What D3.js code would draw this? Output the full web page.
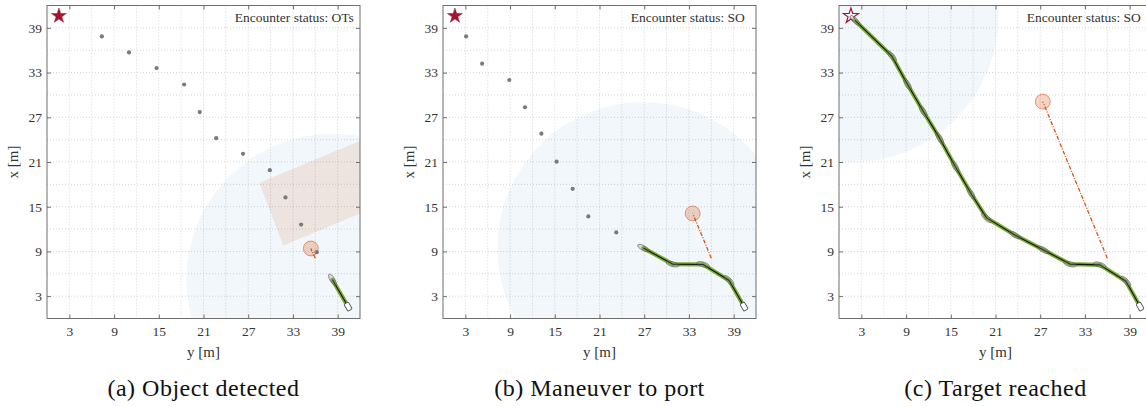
<!DOCTYPE html>
<html>
<head>
<meta charset="utf-8">
<script src="https://cdn.jsdelivr.net/npm/d3@7"></script>
<style>
  body { margin: 0; background: #fff; }
  svg text { font-family: "Liberation Serif", "DejaVu Serif", serif; }
</style>
</head>
<body>
<svg id="chart" width="1146" height="407"></svg>
<script>
// data: points are [y, x] in metres (y is horizontal, x is vertical)
var tickValues = [3, 9, 15, 21, 27, 33, 39];
var gridValues = [3, 6, 9, 12, 15, 18, 21, 24, 27, 30, 33, 36, 39];
var captions = ["(a) Object detected", "(b) Maneuver to port", "(c) Target reached"];
var statusLabels = ["Encounter status: OTs", "Encounter status: SO", "Encounter status: SO"];

var target = [1.6, 40.6];

var waypointsA = [[7.36, 37.85], [11.0, 35.7], [14.7, 33.6], [18.4, 31.4], [20.5, 27.7], [22.7, 24.2],
                  [26.3, 22.1], [29.9, 19.9], [32.0, 16.25], [34.1, 12.6], [36.2, 8.9]];
var waypointsB = [[3.1, 37.85], [5.25, 34.2], [8.9, 32.0], [11.0, 28.35], [13.2, 24.8], [15.25, 21.05],
                  [17.4, 17.4], [19.5, 13.7], [23.25, 11.55]];
var waypointsC = [];

var trackA = [[40.4, 1.6], [38.3, 5.2]];
var trackB = [[40.4, 1.6], [38.4, 5.1], [34.9, 7.25], [30.8, 7.3], [26.9, 9.45]];
var trackC = [[40.4, 1.6], [38.5, 5.0], [35.0, 7.2], [31.0, 7.3], [27.45, 9.2], [23.6, 11.2], [19.8, 13.5],
              [17.7, 16.8], [15.6, 20.4], [13.5, 24.2], [11.3, 27.8], [9.2, 31.4], [7.1, 35.2], [2.15, 40.0]];

var obstacleStart = [36.0, 8.1];
var obstacleA = [35.4, 9.4];
var obstacleB = [33.5, 14.1];
var obstacleC = [27.35, 29.1];
var obstacleRadius = 1.0;

var zoneCenters = [[38.3, 5.2], [26.9, 9.45], [1.8, 40.6]];
var zoneRadius = 19.6;

var riskAreaA = [[28.5, 18.2], [31.7, 9.8], [54.0, 19.1], [50.8, 27.5]];

var statusAt = 25.2; // left edge of the status text, in y metres

var panels = [
  {waypoints: waypointsA, track: trackA, obstacle: obstacleA, risk: riskAreaA},
  {waypoints: waypointsB, track: trackB, obstacle: obstacleB, risk: null},
  {waypoints: waypointsC, track: trackC, obstacle: obstacleC, risk: null}
];

var svg = d3.select("#chart");
var size = 313;
var x = d3.scaleLinear().domain([0, 42]).range([0, size]);
var y = d3.scaleLinear().domain([0, 42]).range([size, 0]);
var line = d3.line().x(function(d) { return x(d[0]); }).y(function(d) { return y(d[1]); });

var green = "#77ac30", orange = "#d95319", axisGray = "#6e6e6e", textCol = "#333";
var serif = "'Liberation Serif', 'DejaVu Serif', serif";

panels.forEach(function(p, i) {
  var left = 47 + i * 396, top = 5.5;
  var g = svg.append("g").attr("transform", "translate(" + left + "," + top + ")");

  g.append("clipPath").attr("id", "clip" + i)
    .append("rect").attr("width", size).attr("height", size);

  g.append("rect").attr("width", size).attr("height", size).attr("fill", "#fff");

  var plot = g.append("g").attr("clip-path", "url(#clip" + i + ")");

  // grid
  plot.selectAll(".gx").data(gridValues).enter().append("line")
    .attr("x1", function(d) { return x(d); }).attr("x2", function(d) { return x(d); })
    .attr("y1", 0).attr("y2", size)
    .attr("stroke", "#cbcbcb").attr("stroke-width", 0.8).attr("stroke-dasharray", "1,2");
  plot.selectAll(".gy").data(gridValues).enter().append("line")
    .attr("y1", function(d) { return y(d); }).attr("y2", function(d) { return y(d); })
    .attr("x1", 0).attr("x2", size)
    .attr("stroke", "#cbcbcb").attr("stroke-width", 0.8).attr("stroke-dasharray", "1,2");

  // detection zone
  plot.append("circle")
    .attr("cx", x(zoneCenters[i][0])).attr("cy", y(zoneCenters[i][1]))
    .attr("r", x(zoneRadius) - x(0))
    .attr("fill", "#0072bd").attr("fill-opacity", 0.055);

  if (p.risk) {
    plot.append("path").attr("d", line(p.risk) + "Z")
      .attr("fill", orange).attr("fill-opacity", 0.12);
  }

  // obstacle path and body
  plot.append("path").attr("d", line([obstacleStart, p.obstacle]))
    .attr("fill", "none").attr("stroke", orange).attr("stroke-width", 1.3)
    .attr("stroke-dasharray", "4,1.5,1,1.5");
  plot.append("circle")
    .attr("cx", x(p.obstacle[0])).attr("cy", y(p.obstacle[1]))
    .attr("r", x(obstacleRadius) - x(0))
    .attr("fill", orange).attr("fill-opacity", 0.25)
    .attr("stroke", orange).attr("stroke-opacity", 0.7).attr("stroke-width", 0.8);

  // planned waypoints
  plot.selectAll(".wp").data(p.waypoints).enter().append("circle")
    .attr("cx", function(d) { return x(d[0]); }).attr("cy", function(d) { return y(d[1]); })
    .attr("r", 2.1).attr("fill", "#7a7a7a");

  // target star
  var star = d3.symbol().type(d3.symbolStar).size(70);
  plot.append("path").attr("d", star())
    .attr("transform", "translate(" + x(target[0]) + "," + y(target[1]) + ")")
    .attr("fill", i === 2 ? "none" : "#a2142f").attr("stroke", "#a2142f").attr("stroke-width", i === 2 ? 1.2 : 0.5);

  // travelled track
  plot.append("path").attr("d", line(p.track))
    .attr("fill", "none").attr("stroke", green).attr("stroke-width", 4.2)
    .attr("stroke-linejoin", "round").attr("stroke-linecap", "round");
  plot.append("path").attr("d", line(p.track))
    .attr("fill", "none").attr("stroke", "#111").attr("stroke-width", 1.1)
    .attr("stroke-linejoin", "round");

  // vessel outlines along the track
  p.track.forEach(function(d, k) {
    var next = p.track[Math.min(k + 1, p.track.length - 1)];
    var prev = p.track[Math.max(k - 1, 0)];
    var dx = x(next[0]) - x(prev[0]), dy = y(next[1]) - y(prev[1]);
    var ang = Math.atan2(dy, dx) * 180 / Math.PI;
    var hull = plot.append("g")
      .attr("transform", "translate(" + x(d[0]) + "," + y(d[1]) + ") rotate(" + ang + ")");
    if (k === 0) {
      hull.append("rect").attr("x", -4).attr("y", -2.5).attr("width", 8).attr("height", 5)
        .attr("rx", 1.2).attr("fill", "#fff").attr("stroke", "#555").attr("stroke-width", 0.9);
    } else {
      hull.append("ellipse").attr("rx", 6.5).attr("ry", 2.4)
        .attr("fill", "#888").attr("fill-opacity", 0.25)
        .attr("stroke", "#555").attr("stroke-opacity", 0.7).attr("stroke-width", 0.8);
    }
  });

  // axes
  var xAxis = d3.axisBottom(x).tickValues(tickValues).tickSize(-4).tickPadding(8);
  var yAxis = d3.axisLeft(y).tickValues(tickValues).tickSize(-4).tickPadding(5);
  var xTop = d3.axisTop(x).tickValues(tickValues).tickSize(-4).tickFormat("");
  var yRight = d3.axisRight(y).tickValues(tickValues).tickSize(-4).tickFormat("");

  var ax = g.append("g").attr("transform", "translate(0," + size + ")").call(xAxis);
  var ay = g.append("g").call(yAxis);
  var at = g.append("g").call(xTop);
  var ar = g.append("g").attr("transform", "translate(" + size + ",0)").call(yRight);
  [ax, ay, at, ar].forEach(function(a) {
    a.attr("font-family", serif);
    a.select(".domain").remove();
    a.selectAll(".tick line").attr("stroke", axisGray);
    a.selectAll("text").attr("fill", textCol).style("font-size", "13.5px")
      .style("font-family", serif);
  });

  g.append("rect").attr("width", size).attr("height", size)
    .attr("fill", "none").attr("stroke", axisGray).attr("stroke-width", 1);

  // labels
  g.append("text").attr("x", size / 2).attr("y", size + 38)
    .attr("text-anchor", "middle").attr("fill", textCol).style("font-size", "15px")
    .text("y [m]");
  g.append("text").attr("transform", "translate(-29," + (size / 2) + ") rotate(-90)")
    .attr("text-anchor", "middle").attr("fill", textCol).style("font-size", "15px")
    .text("x [m]");
  g.append("text").attr("x", x(statusAt)).attr("y", 16)
    .attr("text-anchor", "start").attr("fill", textCol).style("font-size", "13.5px")
    .text(statusLabels[i]);

  g.append("text").attr("x", size / 2).attr("y", 390)
    .attr("text-anchor", "middle").attr("fill", "#111").style("font-size", "24px")
    .style("letter-spacing", "0.5px")
    .text(captions[i]);
});
</script>
</body>
</html>
